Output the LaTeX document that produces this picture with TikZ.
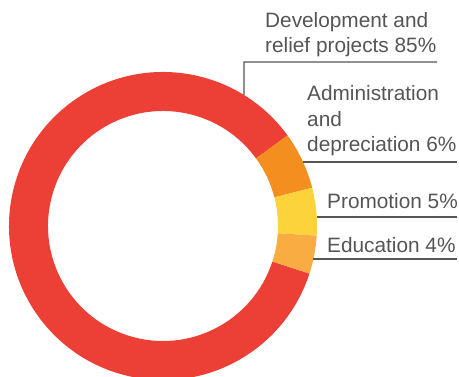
\documentclass[tikz,border=0pt]{standalone}
\usepackage{fontspec}
\setmainfont{Liberation Sans}
\usepackage{tikz}
\usetikzlibrary{calc}
\definecolor{slicered}{HTML}{EC4036}
\definecolor{sliceorange}{HTML}{F48F1F}
\definecolor{sliceyellow}{HTML}{FDD33B}
\definecolor{slicelight}{HTML}{F9AC41}
\definecolor{labgray}{HTML}{555555}
\tikzset{
  leader/.style={draw=labgray, line width=1.3pt},
  lab/.style={text=labgray, font=\fontsize{20.8}{25.5}\selectfont, inner sep=0pt, align=left, anchor=base west},
}

\begin{document}
\begin{tikzpicture}[x=1pt, y=1pt]
\useasboundingbox (0,0) rectangle (459,377);
\coordinate (c) at (163,151);
\fill[slicered] ($(c)+(36:154)$) arc[start angle=36, end angle=342, radius=154pt]
  -- ($(c)+(342:115)$) arc[start angle=342, end angle=36, radius=115pt] -- cycle;
\fill[sliceorange] ($(c)+(14.4:154)$) arc[start angle=14.4, end angle=36, radius=154pt]
  -- ($(c)+(36:115)$) arc[start angle=36, end angle=14.4, radius=115pt] -- cycle;
\fill[sliceyellow] ($(c)+(-3.6:154)$) arc[start angle=-3.6, end angle=14.4, radius=154pt]
  -- ($(c)+(14.4:115)$) arc[start angle=14.4, end angle=-3.6, radius=115pt] -- cycle;
\fill[slicelight] ($(c)+(-18:154)$) arc[start angle=-18, end angle=-3.6, radius=154pt]
  -- ($(c)+(-3.6:115)$) arc[start angle=-3.6, end angle=-18, radius=115pt] -- cycle;

\node[lab] (dev) at (265,324) {Development and\\relief projects 85\%};
\node[lab] (admin) at (307,225) {Administration\\and\\depreciation 6\%};
\node[lab] (promo) at (327,168) {Promotion 5\%};
\node[lab] (edu) at (327,124) {Education 4\%};

\coordinate (devring) at ($(c)+(58.3:154)$);
\coordinate (devcorner) at (244,315);
\coordinate (devend) at (437,315);
\coordinate (adminstart) at (303,215);
\coordinate (adminend) at (457,215);
\coordinate (promostart) at (317,160);
\coordinate (promoend) at (457,160);
\coordinate (edustart) at (313,118);
\coordinate (eduend) at (457,118);

\draw[leader] (devring) -- (devcorner) -- (devend);
\draw[leader] (adminstart) -- (adminend);
\draw[leader] (promostart) -- (promoend);
\draw[leader] (edustart) -- (eduend);
\end{tikzpicture}
\end{document}
